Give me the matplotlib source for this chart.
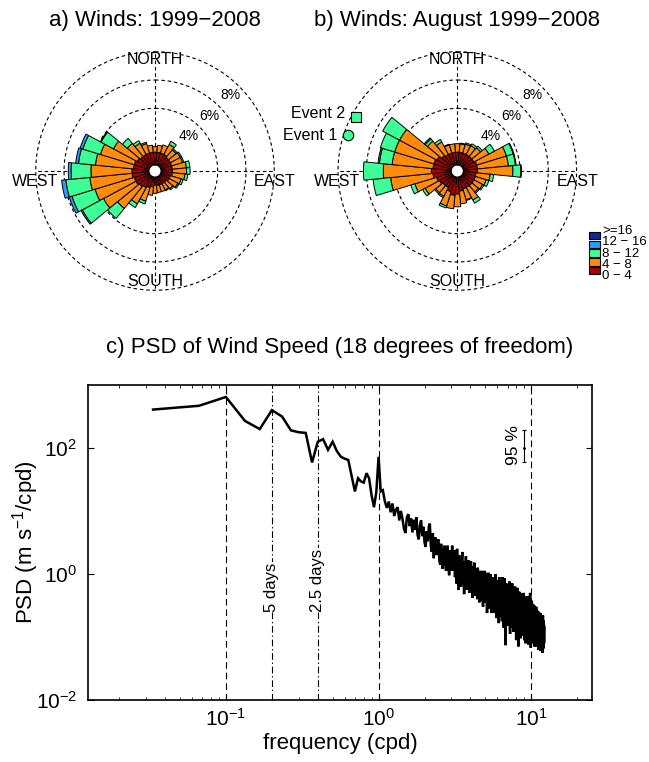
import numpy as np
import matplotlib
matplotlib.use('Agg')
import matplotlib.pyplot as plt
from matplotlib.patches import Rectangle

plt.rcParams['font.family'] = ['Liberation Sans', 'DejaVu Sans']
plt.rcParams['mathtext.fontset'] = 'custom'
plt.rcParams['mathtext.rm'] = 'Liberation Sans'
plt.rcParams['mathtext.it'] = 'Liberation Sans:italic'
plt.rcParams['mathtext.default'] = 'regular'

# ---------------- wind rose data (percent of time, per speed class) -------------
directions = [0, 11.25, 22.5, 33.75, 45, 56.25, 67.5, 78.75,
              90, 101.25, 112.5, 123.75, 135, 146.25, 157.5, 168.75,
              180, 191.25, 202.5, 213.75, 225, 236.25, 247.5, 258.75,
              270, 281.25, 292.5, 303.75, 315, 326.25, 337.5, 348.75]
speed_labels = ['0 \u2212 4', '4 \u2212 8', '8 \u2212 12', '12 \u2212 16', '>=16']
speed_colors = ['#a80000', '#ff8c0a', '#3cff98', '#1ea2ff', '#0a2a9c']

# a) all winds 1999-2008
a_0_4 = [0.9, 0.9, 0.9, 0.9, 0.8, 0.8, 0.8, 0.8, 0.8, 0.8, 0.7, 0.7, 0.6, 0.6, 0.6, 0.6,
         0.6, 0.7, 0.8, 0.9, 1.0, 1.1, 1.1, 1.2, 1.2, 1.1, 1.1, 1.0, 0.9, 0.9, 0.9, 0.9]
a_4_8 = [0.4, 0.5, 0.6, 0.8, 0.7, 0.8, 0.8, 1.0, 1.0, 0.9, 0.8, 0.7, 0.6, 0.5, 0.5, 0.5,
         0.55, 0.6, 1.0, 1.3, 2.0, 2.6, 2.9, 3.0, 2.9, 2.7, 2.5, 1.9, 1.2, 0.9, 0.7, 0.5]
a_8_12 = [0, 0, 0, 0.25, 0.1, 0.1, 0.1, 0.25, 0.25, 0.2, 0.15, 0.1, 0.1, 0.05, 0, 0,
          0, 0, 0.2, 0.3, 0.9, 1.7, 1.7, 1.7, 1.4, 1.2, 1.3, 1.0, 0.45, 0.2, 0.1, 0]
a_12_16 = [0, 0, 0, 0, 0, 0, 0, 0, 0, 0, 0, 0, 0, 0, 0, 0,
           0, 0, 0, 0, 0, 0.1, 0.2, 0.3, 0.2, 0.2, 0.2, 0.05, 0, 0, 0, 0]
a_16 = [0] * 32

# b) August winds 1999-2008
b_0_4 = [0.9, 0.9, 0.9, 0.9, 0.9, 0.9, 1.0, 1.0, 1.0, 0.9, 0.9, 0.9, 0.9, 0.9, 0.9, 1.0,
         1.2, 1.3, 1.1, 0.9, 0.9, 1.0, 1.1, 1.3, 1.4, 1.3, 1.3, 1.2, 1.0, 0.9, 0.9, 0.9]
b_4_8 = [0.6, 0.6, 0.65, 0.7, 0.8, 1.2, 2.2, 2.2, 2.5, 1.0, 0.8, 0.7, 0.6, 1.0, 0.8, 0.9,
         0.9, 0.95, 1.05, 0.7, 0.65, 1.15, 1.6, 3.0, 3.4, 2.9, 2.9, 3.0, 1.3, 1.0, 0.6, 0.6]
b_8_12 = [0, 0.05, 0.1, 0.15, 0.15, 0.45, 0.5, 0.5, 0.55, 0.25, 0.2, 0.1, 0.1, 0.25, 0.05, 0,
          0, 0, 0.15, 0.1, 0.1, 0.2, 0.3, 1.25, 1.4, 0.9, 1.05, 1.35, 0.2, 0.2, 0.05, 0]
b_12_16 = [0, 0, 0, 0, 0, 0, 0.05, 0.05, 0.05, 0, 0, 0, 0, 0, 0, 0,
           0, 0, 0, 0, 0, 0, 0, 0, 0, 0.1, 0, 0, 0.1, 0, 0, 0]
b_16 = [0] * 32

# events plotted on panel b (direction deg, radius %)
event_names = ['Event 1', 'Event 2']
event_dirs = [288, 298]
event_r = [7.7, 7.7]

# ---------------- PSD data (log10 of PSD, m s^-1/cpd), df = 1/30 cpd -------------
psd_log10 = [
    2.61, 2.67, 2.81, 2.43, 2.30, 2.60, 2.50, 2.28, 2.25, 2.24,
    1.77, 2.10, 2.14, 1.97, 2.10, 1.95, 1.86, 1.83, 1.81, 1.55,
    1.31, 1.52, 1.47, 1.45, 1.60, 1.52, 1.25, 1.06, 1.30, 1.86,
    1.31, 1.33, 1.15, 1.05, 1.15, 0.98, 1.12, 0.92, 1.02, 1.06,
    0.85, 1.00, 0.88, 0.72, 0.65, 0.90, 0.95, 0.76, 0.88, 0.66,
    0.86, 0.70, 0.90, 0.62, 0.55, 0.78, 0.85, 0.60, 0.75, 0.50,
    0.43, 0.68, 0.52, 0.75, 0.80, 0.45, 0.35, 0.65, 0.25, 0.55,
    0.58, 0.30, 0.50, 0.55, 0.22, 0.15, 0.48, 0.35, 0.08, 0.30,
    0.45, 0.20, 0.05, 0.35, 0.45, 0.12, -0.02, 0.38, 0.30, 0.05,
    0.45, 0.15, 0.05, 0.38, -0.05, 0.25, -0.15, 0.40, 0.12, -0.25,
    0.30, -0.05, 0.25, -0.20, 0.15, 0.35, -0.15, 0.12, -0.32, 0.20,
    -0.10, 0.28, -0.25, 0.12, 0.18, -0.22, 0.22, -0.30, 0.05, 0.15,
    0.20, -0.25, 0.05, -0.38, 0.12, -0.20, 0.18, -0.32, 0.02, -0.35,
    0.08, -0.22, -0.40, 0.10, -0.30, 0.02, -0.45, 0.00, 0.05, -0.35,
    -0.02, -0.42, 0.05, -0.30, -0.52, 0.00, -0.38, 0.05, -0.45, -0.08,
    0.02, -0.45, -0.10, -0.62, 0.00, -0.40, 0.02, -0.48, -0.55, -0.05,
    -0.45, 0.00, -0.52, -0.10, -0.62, -0.05, -0.50, -0.12, -0.58, -0.05,
    -0.52, -0.08, -0.62, -0.15, 0.00, -0.58, -0.12, -0.70, -0.10, -0.55,
    -0.12, -0.62, -0.15, -0.78, -0.05, -0.58, -0.15, -0.68, -0.48, -0.10,
    -0.62, -0.15, -0.75, -0.20, -0.05, -0.65, -0.22, -0.85, -0.15, -0.60,
    -0.07, -0.70, -0.20, -1.13, -0.30, -0.15, -0.72, -0.25, -0.82, -0.18,
    -0.68, -0.18, -0.80, -0.25, -0.72, -0.12, -0.65, -0.95, -0.22, -0.75,
    -0.20, -0.80, -0.28, -0.75, -0.15, -0.85, -0.30, -0.72, -0.22, -0.92,
    -0.32, -0.25, -0.80, -0.35, -0.20, -0.88, -0.38, -0.30, -1.05, -0.35,
    -0.25, -0.82, -0.35, -0.22, -0.92, -0.38, -1.15, -0.30, -0.80, -0.28,
    -0.85, -0.35, -0.90, -0.30, -0.78, -1.02, -0.38, -0.85, -0.32, -0.80,
    -0.92, -0.38, -0.85, -0.35, -0.98, -0.42, -0.88, -0.30, -0.82, -1.05,
    -0.40, -0.88, -0.35, -0.92, -0.45, -1.10, -0.42, -0.90, -0.38, -0.95,
    -0.48, -1.00, -0.42, -0.90, -0.35, -0.98, -0.50, -1.12, -0.45, -0.92,
    -0.55, -0.40, -1.00, -0.48, -0.30, -0.95, -0.52, -1.17, -0.55, -0.42,
    -0.95, -0.55, -0.45, -1.00, -1.10, -0.52, -1.02, -0.48, -1.08, -0.60,
    -0.55, -1.05, -0.62, -0.50, -1.15, -0.60, -1.02, -0.55, -1.10, -0.65,
    -0.58, -1.08, -0.52, -1.00, -1.15, -0.62, -1.05, -0.58, -1.12, -0.66,
    -0.62, -1.10, -0.68, -1.20, -0.62, -1.08, -0.60, -1.15, -0.72, -0.65,
    -1.10, -0.65, -1.18, -0.70, -0.62, -1.22, -0.72, -0.68, -1.12, -0.66,
    -1.10, -0.70, -1.20, -0.65, -1.05, -1.25, -0.72, -0.66, -1.15, -0.75,
    -0.73, -1.18, -0.80, -1.10, -0.85,
]
freq_resolution = 1.0 / 30.0
ref_lines_dashed = [0.1, 1.0, 10.0]
ref_lines_dashdot = [0.2, 0.4]
ref_line_labels = {0.2: '5 days', 0.4: '2.5 days'}
ci_freq = 9.0
ci_center = 100.0
ci_low = 60.0
ci_high = 193.0

W, H = 649, 762
fig = plt.figure(figsize=(W / 100, H / 100), dpi=100)


def px_rect(left, top, width, height):
    return [left / W, 1 - (top + height) / H, width / W, height / H]


DASH = (0, (3.2, 2.5))
R_ORIGIN = -0.43
R_MAX = 8.6


def draw_rose(cx, cy, classes, title):
    rad_px = (R_MAX - R_ORIGIN) * 14.15
    ax = fig.add_axes(px_rect(cx - rad_px, cy - rad_px, 2 * rad_px, 2 * rad_px),
                      projection='polar')
    ax.set_theta_zero_location('N')
    ax.set_theta_direction(-1)
    ax.set_rorigin(R_ORIGIN)
    ax.set_ylim(0, R_MAX)
    ax.grid(False)
    ax.set_xticks([])
    ax.set_yticks([])
    ax.spines['polar'].set_visible(False)
    ax.patch.set_alpha(0)

    theta = np.deg2rad(directions)
    width = np.deg2rad(11.25)
    bottom = np.zeros(len(directions))
    for vals, col in zip(classes, speed_colors):
        vals = np.asarray(vals, dtype=float)
        m = vals > 0
        if m.any():
            ax.bar(theta[m], vals[m], width=width, bottom=bottom[m], color=col,
                   edgecolor='k', linewidth=0.7, zorder=3, align='center')
        bottom = bottom + vals

    tt = np.linspace(0, 2 * np.pi, 721)
    for r in [4, 6, 8]:
        ax.plot(tt, np.full_like(tt, r), color='k', lw=0.8, ls=DASH, zorder=1)
    for a in [0, 90, 180, 270]:
        ax.plot([np.deg2rad(a)] * 2, [0, 8], color='k', lw=0.8, ls=DASH, zorder=1)

    for lab, (fx, fy) in zip(['4%', '6%', '8%'],
                             [(33.3, 35), (54.3, 55), (75, 76)]):
        ax.text(0.5 + fx / (2 * rad_px), 0.5 + fy / (2 * rad_px), lab,
                transform=ax.transAxes, ha='center', va='center', fontsize=10,
                zorder=2)
    for lab, (fx, fy) in zip(['NORTH', 'SOUTH', 'WEST', 'EAST'],
                             [(0, 111), (0, -110), (-120, -10.7), (120, -10.7)]):
        ax.text(0.5 + fx / (2 * rad_px), 0.5 + fy / (2 * rad_px), lab,
                transform=ax.transAxes, ha='center', va='center', fontsize=11.5,
                zorder=4, clip_on=False)
    fig.text(cx / W, 1 - 20.7 / H, title, ha='center', va='center', fontsize=16)
    return ax


ax_a = draw_rose(155, 171, [a_0_4, a_4_8, a_8_12, a_12_16, a_16],
                 'a) Winds: 1999\u22122008')
ax_b = draw_rose(457.3, 171, [b_0_4, b_4_8, b_8_12, b_12_16, b_16],
                 'b) Winds: August 1999\u22122008')

# events on panel b
ev_markers = ['o', 's']
ev_sizes = [7.5, 6.5]
ev_offsets = [(-7.9, 0), (-7.7, 2.4)]
for name, d, r, mk, ms, off in zip(event_names, event_dirs, event_r, ev_markers,
                                   ev_sizes, ev_offsets):
    ax_b.plot([np.deg2rad(d)], [r], marker=mk, ms=ms, mfc=speed_colors[2],
              mec='k', mew=0.8, ls='none', zorder=5, clip_on=False)
    ax_b.annotate(name, xy=(np.deg2rad(d), r), xytext=off,
                  textcoords='offset points', ha='right', va='center',
                  fontsize=11.5, annotation_clip=False)

# legend for speed classes (one multi-line text block, tight rows as in original)
leg_center_y = 253.0
leg_step = 8.9
n_cls = len(speed_labels)
for i, col in enumerate(speed_colors[::-1]):
    yy = leg_center_y + (i - (n_cls - 1) / 2) * leg_step
    fig.patches.append(Rectangle((588.5 / W, 1 - (yy + 3.6) / H), 11.5 / W, 7.2 / H,
                                 transform=fig.transFigure, facecolor=col,
                                 edgecolor='k', linewidth=0.8))
fig.text(602 / W, 1 - (leg_center_y + 0.5) / H, '\n'.join(speed_labels[::-1]),
         ha='left', va='center', fontsize=9.5, linespacing=0.93)

# ---------------- panel c: PSD ----------------
axc = fig.add_axes(px_rect(88, 385, 504, 315))
psd = 10 ** np.asarray(psd_log10)
freq = np.arange(1, len(psd) + 1) * freq_resolution
axc.loglog(freq, psd, color='k', lw=1.8, zorder=3, solid_joinstyle='miter')
for f in ref_lines_dashed:
    axc.axvline(f, color='k', lw=0.8, ls=(0, (6, 3.5)), zorder=1)
for f in ref_lines_dashdot:
    axc.axvline(f, color='k', lw=0.8, ls=(0, (6, 2.5, 1.2, 2.5)), zorder=1)
    axc.text(f, 10 ** -0.6, ref_line_labels[f], rotation=90, ha='center',
             va='bottom', fontsize=12, zorder=2,
             bbox=dict(facecolor='white', edgecolor='none', pad=0.5))
axc.errorbar([ci_freq], [ci_center], yerr=[[ci_center - ci_low], [ci_high - ci_center]],
             color='k', lw=0.8, capsize=1.6, capthick=0.8, marker='.', ms=2, zorder=3)
axc.text(7.66, 10 ** 2.05, '95 %', rotation=90, ha='center', va='center', fontsize=12.5)

axc.set_xlim(0.0125, 25)
axc.set_ylim(1e-2, 1e3)
axc.set_yticks([1e-2, 1e0, 1e2])
axc.yaxis.set_minor_locator(matplotlib.ticker.NullLocator())
axc.set_xticks([1e-1, 1e0, 1e1])
axc.tick_params(which='both', direction='in', top=True, right=True, labelsize=15)
axc.tick_params(which='major', length=4, width=0.8)
axc.tick_params(which='minor', length=2.2, width=0.6)
axc.tick_params(axis='x', pad=6)
axc.tick_params(axis='y', pad=8)
for s in axc.spines.values():
    s.set_linewidth(1.2)
axc.set_xlabel('frequency (cpd)', fontsize=16, labelpad=2)
axc.set_ylabel('PSD (m s$^{-1}$/cpd)', fontsize=16)
axc.yaxis.set_label_coords(-0.093, 0.5)
axc.set_title('c) PSD of Wind Speed (18 degrees of freedom)', fontsize=16, pad=23)

fig.savefig('out.png', dpi=100)
